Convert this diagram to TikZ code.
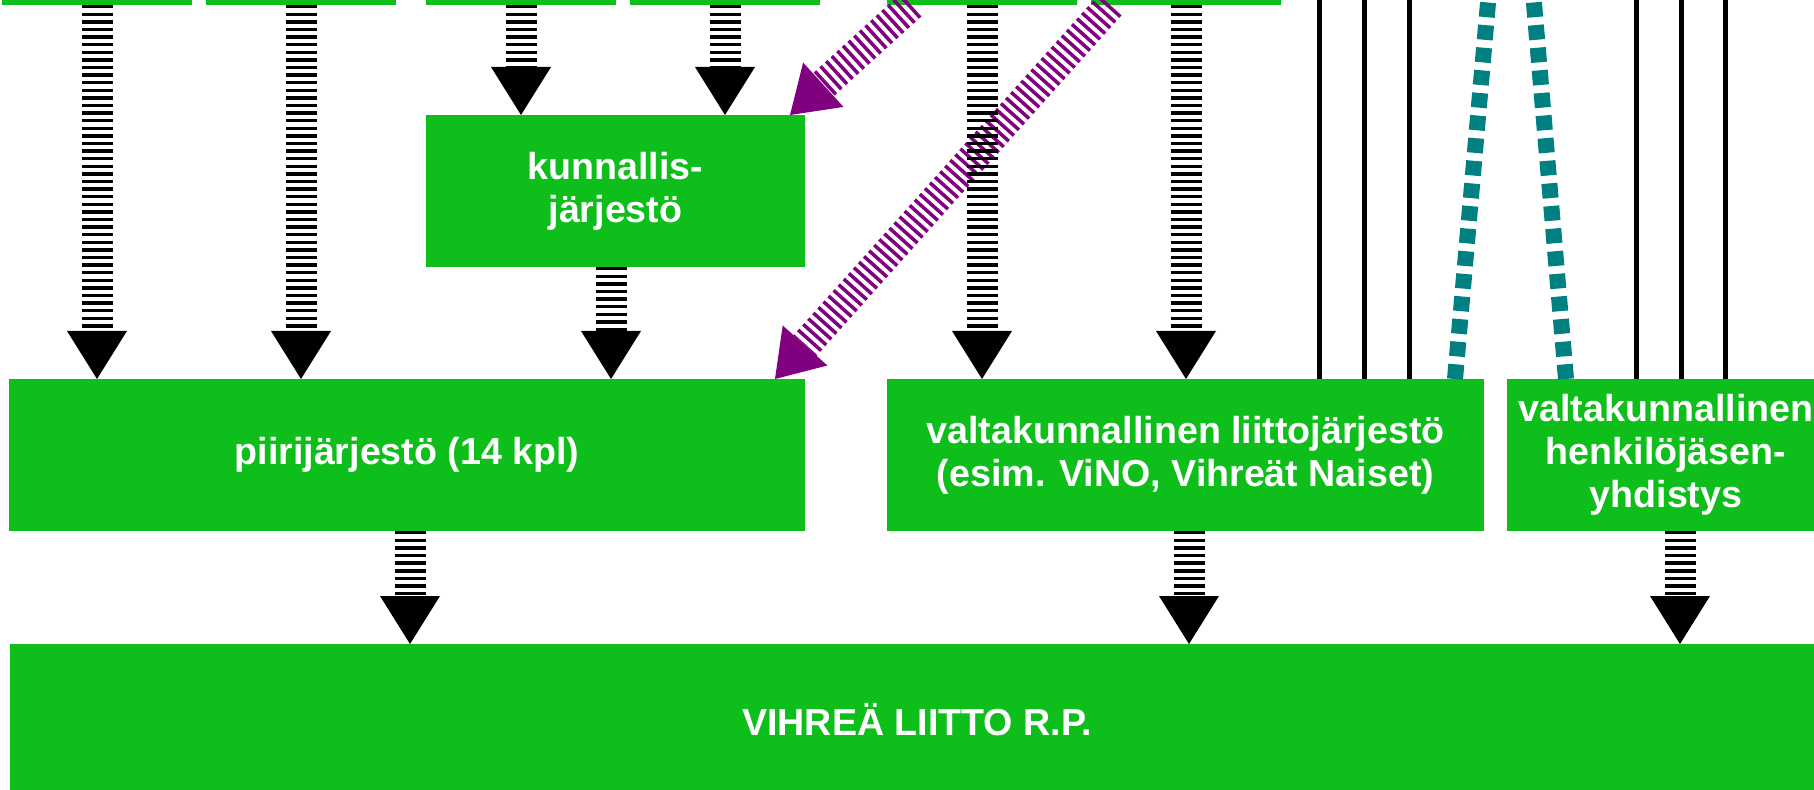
\documentclass[tikz,border=0pt]{standalone}
\usepackage{fontspec}
\setmainfont{Liberation Sans}
\usetikzlibrary{arrows.meta}
\definecolor{grn}{RGB}{14,190,27}
\definecolor{purp}{RGB}{128,0,128}
\definecolor{tealc}{RGB}{0,128,128}
\tikzset{
  box/.style={fill=grn, draw=none, inner sep=0pt, outer sep=0pt, text=white, align=center,
    font=\bfseries\fontsize{18.8pt}{21.5pt}\selectfont, anchor=north west},
  flow/.style={draw=black, line width=15.5pt, dash pattern=on 1.75pt off 2.05pt,
    -{Triangle[width=30pt,length=24pt,line width=0pt]}},
  pflow/.style={draw=purp, line width=15.5pt, dash pattern=on 1.75pt off 2.05pt,
    -{Triangle[width=30pt,length=22.5pt,line width=0pt]}},
  thinline/.style={draw=black, line width=2.5pt},
  dotline/.style={draw=tealc, line width=8pt, dash pattern=on 7.35pt off 4pt},
}
\begin{document}
\begin{tikzpicture}[x=0.5pt,y=-0.5pt]
\useasboundingbox (0,0) rectangle (1814,790);
% top boxes (cut off)
\node[box, minimum width=95pt, minimum height=76pt] (b1) at (2,-147) {};
\node[box, minimum width=95pt, minimum height=76pt] (b2) at (206,-147) {};
\node[box, minimum width=95pt, minimum height=76pt] (b3) at (426,-147) {};
\node[box, minimum width=95pt, minimum height=76pt] (b4) at (630,-147) {};
\node[box, minimum width=95pt, minimum height=76pt] (b5) at (887,-147) {};
\node[box, minimum width=95pt, minimum height=76pt] (b6) at (1091,-147) {};
% middle boxes
\node[box, minimum width=189.5pt, minimum height=76pt] (kun) at (426,115) {kunnallis-\\järjestö};
\node[box, minimum width=398pt, minimum height=76pt] (piiri) at (9,379) {piirijärjestö (14 kpl)};
\node[box, minimum width=298.5pt, minimum height=76pt] (liitto) at (887,379) {valtakunnallinen liittojärjestö\\(esim. ViNO, Vihreät Naiset)};
\node[box, minimum width=159pt, minimum height=76pt] (henk) at (1507,379) {valtakunnallinen\\henkilöjäsen-\\yhdistys};
\node[box, minimum width=907pt, minimum height=76pt] (vl) at (10,644) {VIHREÄ LIITTO R.P.};
% helper coordinates
\coordinate (c5) at (611,0);
\coordinate (c8) at (410,0);
\coordinate (c9) at (1189,0);
\coordinate (c10) at (1680,0);
\coordinate (k1) at (1319,-20);
\coordinate (k2) at (1364,-20);
\coordinate (k3) at (1409,-20);
\coordinate (k4) at (1636,-20);
\coordinate (k5) at (1681,-20);
\coordinate (k6) at (1725,-20);
\coordinate (t1x) at (1455,0);
\coordinate (t1) at (1490,-20);
\coordinate (t2x) at (1566,0);
\coordinate (t2) at (1532,-20);
% purple diagonal arrows
\draw[pflow] ([xshift=12pt]b5.south west) -- ([xshift=-7.5pt]kun.north east);
\draw[pflow] ([xshift=9.5pt]b6.south west) -- ([xshift=-15pt]piiri.north east);
% vertical striped arrows
\draw[flow] (b1.south) -- (b1.south |- piiri.north);
\draw[flow] (b2.south) -- (b2.south |- piiri.north);
\draw[flow] (b3.south) -- (b3.south |- kun.north);
\draw[flow] (b4.south) -- (b4.south |- kun.north);
\draw[flow] (kun.south -| c5) -- (piiri.north -| c5);
\draw[flow] (b5.south) -- (b5.south |- liitto.north);
\draw[flow] (b6.south) -- (b6.south |- liitto.north);
\draw[flow] (piiri.south -| c8) -- (vl.north -| c8);
\draw[flow] (liitto.south -| c9) -- (vl.north -| c9);
\draw[flow] (henk.south -| c10) -- (vl.north -| c10);
% thin black lines
\draw[thinline] (k1) -- (k1 |- liitto.north);
\draw[thinline] (k2) -- (k2 |- liitto.north);
\draw[thinline] (k3) -- (k3 |- liitto.north);
\draw[thinline] (k4) -- (k4 |- henk.north);
\draw[thinline] (k5) -- (k5 |- henk.north);
\draw[thinline] (k6) -- (k6 |- henk.north);
% teal dotted lines
\draw[dotline] (liitto.north -| t1x) -- (t1);
\draw[dotline] (henk.north -| t2x) -- (t2);
\end{tikzpicture}
\end{document}
